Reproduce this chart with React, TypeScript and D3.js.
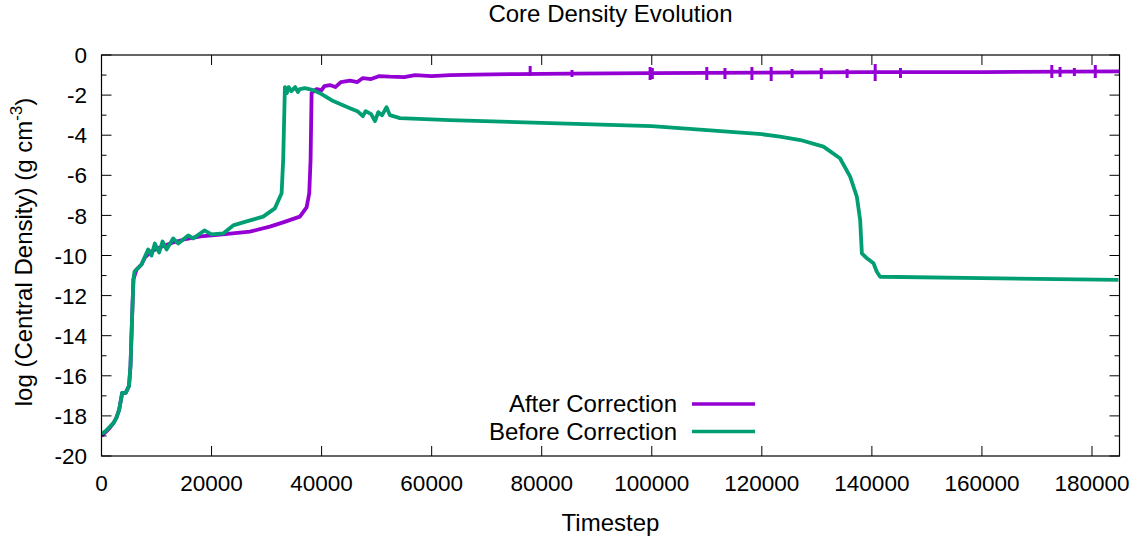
import React from "react";
import * as d3 from "d3";

const W = 1139;
const H = 539;

const titleText = "Core Density Evolution";
const xLabel = "Timestep";
const seriesNames = ["After Correction", "Before Correction"];
const seriesColors = ["#9400d3", "#009e73"];

const xTicks = [0, 20000, 40000, 60000, 80000, 100000, 120000, 140000, 160000, 180000];
const yMajor = [0, -2, -4, -6, -8, -10, -12, -14, -16, -18, -20];
const yMinor = [-1, -3, -5, -7, -9, -11, -13, -15, -17, -19];

// After Correction: [timestep, log central density]
const afterData: [number, number][] = [
  [0, -19.0], [800, -18.8], [1500, -18.6], [2200, -18.35], [2700, -18.1], [3200, -17.7],
  [3600, -17.1], [3750, -16.85], [4400, -16.85], [5000, -16.5], [5270, -15.5], [5570, -13.0],
  [5800, -11.2], [6360, -10.7], [7270, -10.45], [7900, -10.1], [9000, -9.8], [11000, -9.55],
  [13000, -9.35], [15000, -9.2], [18000, -9.05], [22000, -8.95], [26960, -8.81], [30600, -8.56],
  [33000, -8.35], [36050, -8.06], [37270, -7.6], [37750, -6.9], [38000, -5.2], [38180, -1.9],
  [39090, -1.7], [40000, -1.75], [40500, -1.55], [41500, -1.5], [42500, -1.6], [43500, -1.35],
  [45150, -1.28], [46500, -1.35], [47500, -1.15], [49000, -1.2], [50500, -1.05], [52400, -1.08],
  [55000, -1.1], [57000, -1.0], [60000, -1.05], [63300, -1.0], [68000, -0.98], [75450, -0.95],
  [85000, -0.93], [100000, -0.9], [120000, -0.88], [140000, -0.85], [160000, -0.85], [185000, -0.82],
];

// short noisy bursts on the After Correction curve: [timestep, top, bottom]
const afterSpikes: [number, number, number][] = [
  [77900, -0.55, -1.05], [85500, -0.75, -1.1], [99700, -0.6, -1.25], [100100, -0.65, -1.2],
  [110000, -0.6, -1.25], [113300, -0.65, -1.2], [118200, -0.6, -1.25], [121700, -0.6, -1.3],
  [125500, -0.7, -1.15], [130800, -0.65, -1.2], [135500, -0.7, -1.15], [140600, -0.45, -1.3],
  [145200, -0.65, -1.15], [172700, -0.5, -1.15], [174200, -0.6, -1.1], [176800, -0.65, -1.05],
  [180600, -0.5, -1.15],
];

// Before Correction
const beforeData: [number, number][] = [
  [0, -18.9], [800, -18.75], [1500, -18.55], [2200, -18.35], [2700, -18.1], [3200, -17.7],
  [3600, -17.1], [3750, -16.85], [4400, -16.85], [5000, -16.5], [5270, -15.5], [5570, -13.0],
  [5800, -11.2], [6000, -10.8], [6360, -10.7], [7270, -10.45], [7900, -10.05], [8470, -9.7],
  [9090, -10.0], [9690, -9.4], [10470, -9.85], [11090, -9.3], [11820, -9.7], [13020, -9.15],
  [13930, -9.4], [15750, -9.0], [16650, -9.15], [18690, -8.75], [20000, -8.95], [22110, -8.9],
  [23930, -8.5], [26360, -8.3], [29380, -8.06], [31500, -7.65], [32730, -6.9], [33020, -5.2],
  [33330, -1.6], [33700, -1.9], [34000, -1.6], [34500, -1.8], [35200, -1.6], [35700, -1.85],
  [36050, -1.7], [37000, -1.65], [38470, -1.75], [40000, -1.95], [42100, -2.3], [45150, -2.65],
  [46500, -2.8], [47500, -3.05], [48000, -2.8], [49000, -2.95], [49700, -3.3], [50300, -2.85],
  [51000, -3.0], [51800, -2.6], [52400, -3.0], [54240, -3.15], [63300, -3.25], [81500, -3.4],
  [100000, -3.55], [120000, -3.95], [123300, -4.07], [127000, -4.24], [131200, -4.57],
  [134200, -5.15], [136050, -6.07], [137270, -7.07], [137870, -8.23], [138180, -9.89],
  [139100, -10.14], [140300, -10.39], [140900, -10.81], [141500, -11.06], [160000, -11.13],
  [184800, -11.22],
];

const L = 101.5, R = 1119.5, T = 55, B = 456;
const FONT = "'Liberation Sans', Arial, Helvetica, sans-serif";
const FS = 22.5;
const FL = 24;

export default function App() {
  const x = d3.scaleLinear().domain([0, 185000]).range([L, R]);
  const y = d3.scaleLinear().domain([-20, 0]).range([B, T]);
  const line = d3.line<[number, number]>().x((d) => x(d[0])).y((d) => y(d[1]));

  return (
    <svg width={W} height={H} style={{ position: "absolute", left: 0, top: 0, background: "#fff" }} fontFamily={FONT}>
      <rect x={0} y={0} width={W} height={H} fill="#fff" />
      <defs>
        <clipPath id="clip">
          <rect x={L} y={T} width={R - L} height={B - T} />
        </clipPath>
      </defs>
      {/* data */}
      <g clipPath="url(#clip)">
        <path d={line(afterData) || ""} fill="none" stroke={seriesColors[0]} strokeWidth={3.8} strokeLinejoin="round" />
        {afterSpikes.map((s, i) => (
          <line key={i} x1={x(s[0])} x2={x(s[0])} y1={y(s[1])} y2={y(s[2])} stroke={seriesColors[0]} strokeWidth={3} />
        ))}
        <path d={line(beforeData) || ""} fill="none" stroke={seriesColors[1]} strokeWidth={3.8} strokeLinejoin="round" />
      </g>
      {/* ticks */}
      {yMajor.map((v) => (
        <g key={"ym" + v}>
          <line x1={L} x2={L + 10} y1={y(v)} y2={y(v)} stroke="#000" strokeWidth={1} />
          <line x1={R} x2={R - 10} y1={y(v)} y2={y(v)} stroke="#000" strokeWidth={1} />
          <text x={87} y={y(v)} dy="0.36em" textAnchor="end" fontSize={FS} fill="#000">{v}</text>
        </g>
      ))}
      {yMinor.map((v) => (
        <g key={"yn" + v}>
          <line x1={L} x2={L + 5} y1={y(v)} y2={y(v)} stroke="#000" strokeWidth={1} />
          <line x1={R} x2={R - 5} y1={y(v)} y2={y(v)} stroke="#000" strokeWidth={1} />
        </g>
      ))}
      {xTicks.map((v) => (
        <g key={"x" + v}>
          <line x1={x(v)} x2={x(v)} y1={B} y2={B - 10} stroke="#000" strokeWidth={1} />
          <line x1={x(v)} x2={x(v)} y1={T} y2={T + 10} stroke="#000" strokeWidth={1} />
          <text x={x(v)} y={491} textAnchor="middle" fontSize={FS} fill="#000">{v}</text>
        </g>
      ))}
      {/* frame */}
      <rect x={L} y={T} width={R - L} height={B - T} fill="none" stroke="#000" strokeWidth={1.2} />
      {/* titles */}
      <text x={(L + R) / 2} y={22} textAnchor="middle" fontSize={FL} fill="#000">{titleText}</text>
      <text x={(L + R) / 2} y={531} textAnchor="middle" fontSize={FL} fill="#000">{xLabel}</text>
      <text transform={`translate(32, 252) rotate(-90)`} textAnchor="middle" fontSize={FL} fill="#000">
        log (Central Density) (g cm<tspan fontSize={17} dy={-10}>-3</tspan><tspan dy={10}>)</tspan>
      </text>
      {/* legend */}
      {seriesNames.map((n, i) => (
        <g key={n}>
          <text x={677} y={412 + i * 27.5} textAnchor="end" fontSize={FL} fill="#000">{n}</text>
          <line x1={692} x2={755} y1={404 + i * 27.5} y2={404 + i * 27.5} stroke={seriesColors[i]} strokeWidth={3.5} />
        </g>
      ))}
    </svg>
  );
}
